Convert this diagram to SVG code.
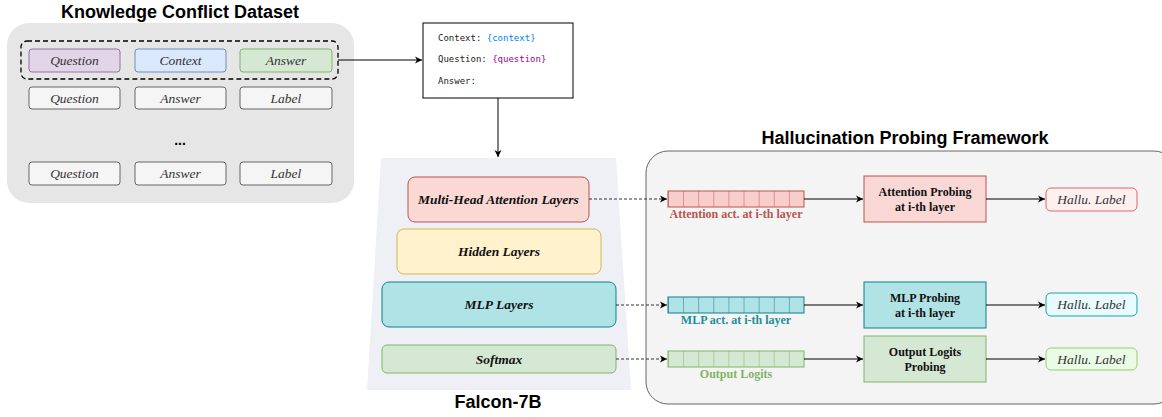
<svg xmlns="http://www.w3.org/2000/svg" width="1162" height="417" viewBox="0 0 1162 417">
<style>
.title{font-family:"Liberation Sans",Arial,sans-serif;font-weight:bold;font-size:18px;fill:#000;text-anchor:middle}
.cell{font-family:"Liberation Serif","Times New Roman",serif;font-style:italic;font-size:13.5px;text-anchor:middle;fill:#333}
.layer{font-family:"Liberation Serif","Times New Roman",serif;font-style:italic;font-weight:bold;font-size:13.5px;text-anchor:middle;fill:#111}
.probe{font-family:"Liberation Serif","Times New Roman",serif;font-weight:bold;font-size:12px;text-anchor:middle;fill:#111}
.act{font-family:"Liberation Serif","Times New Roman",serif;font-weight:bold;font-size:12px;text-anchor:middle}
.mono{font-family:"DejaVu Sans Mono","Liberation Mono",monospace;font-size:9px;fill:#222}
.gbox{fill:#f5f5f5;stroke:#666;stroke-width:1}
.line{fill:none;stroke:#000;stroke-width:1}
.dash{fill:none;stroke:#333;stroke-width:1;stroke-dasharray:3 2}
</style>
<defs>
<marker id="arr" markerWidth="8" markerHeight="8" refX="7" refY="4" orient="auto" markerUnits="userSpaceOnUse">
<path d="M0,0.5 L7,4 L0,7.5 L2,4 Z" fill="#000"/>
</marker>
<pattern id="cellsR" x="668" y="0" width="15.11" height="417" patternUnits="userSpaceOnUse">
<rect x="0" y="0" width="15.11" height="417" fill="#f8cecc"/>
<line x1="0" y1="0" x2="0" y2="417" stroke="#b85450" stroke-width="1"/>
</pattern>
<pattern id="cellsB" x="668" y="0" width="15.11" height="417" patternUnits="userSpaceOnUse">
<rect x="0" y="0" width="15.11" height="417" fill="#b0e3e6"/>
<line x1="0" y1="0" x2="0" y2="417" stroke="#0e8088" stroke-width="1"/>
</pattern>
<pattern id="cellsG" x="668" y="0" width="15.11" height="417" patternUnits="userSpaceOnUse">
<rect x="0" y="0" width="15.11" height="417" fill="#d5e8d4"/>
<line x1="0" y1="0" x2="0" y2="417" stroke="#82b366" stroke-width="1"/>
</pattern>
</defs>

<g id="dataset">
<text class="title" x="180" y="18">Knowledge Conflict Dataset</text>
<rect x="7" y="23" width="347" height="180" rx="22" fill="#e6e6e6"/>
<rect x="21" y="41" width="317" height="38" rx="6" fill="none" stroke="#000" stroke-width="1.3" stroke-dasharray="5 3"/>
<rect x="29" y="49" width="91" height="23" rx="3" fill="#e1d5e7" stroke="#9673a6"/>
<text class="cell" x="74.5" y="65">Question</text>
<rect x="135" y="49" width="91" height="23" rx="3" fill="#dae8fc" stroke="#6c8ebf"/>
<text class="cell" x="180.5" y="65">Context</text>
<rect x="240" y="49" width="92" height="23" rx="3" fill="#d5e8d4" stroke="#82b366"/>
<text class="cell" x="286" y="65">Answer</text>
<rect x="29" y="87" width="91" height="22" rx="3" class="gbox"/>
<text class="cell" x="74.5" y="102.5">Question</text>
<rect x="135" y="87" width="91" height="22" rx="3" class="gbox"/>
<text class="cell" x="180.5" y="102.5">Answer</text>
<rect x="240" y="87" width="92" height="22" rx="3" class="gbox"/>
<text class="cell" x="286" y="102.5">Label</text>
<text x="180" y="145" font-family="Liberation Sans,Arial,sans-serif" font-weight="bold" font-size="14" text-anchor="middle">...</text>
<rect x="29" y="162" width="91" height="23" rx="3" class="gbox"/>
<text class="cell" x="74.5" y="178">Question</text>
<rect x="135" y="162" width="91" height="23" rx="3" class="gbox"/>
<text class="cell" x="180.5" y="178">Answer</text>
<rect x="240" y="162" width="92" height="23" rx="3" class="gbox"/>
<text class="cell" x="286" y="178">Label</text>
</g>

<g id="prompt">
<rect x="423" y="23" width="150" height="75" fill="#fff" stroke="#000" stroke-width="1"/>
<text class="mono" x="438" y="41">Context: <tspan fill="#007fff">{context}</tspan></text>
<text class="mono" x="438" y="62">Question: <tspan fill="#990099">{question}</tspan></text>
<text class="mono" x="438" y="84">Answer:</text>
</g>

<g id="falcon">
<polygon points="381,158 616,158 631,390 367,390" fill="#eef0f5"/>
<text class="title" x="498" y="408">Falcon-7B</text>
<g id="mha">
<rect x="408" y="177" width="181" height="45" rx="7" fill="#fad9d5" stroke="#b85450"/>
<text class="layer" x="498.5" y="203.5">Multi-Head Attention Layers</text>
</g>
<g id="hidden">
<rect x="397" y="229" width="204" height="45" rx="7" fill="#fff2cc" stroke="#d6b656"/>
<text class="layer" x="499" y="256">Hidden Layers</text>
</g>
<g id="mlp">
<rect x="382" y="282" width="234" height="45" rx="7" fill="#b0e3e6" stroke="#0e8088"/>
<text class="layer" x="499" y="309">MLP Layers</text>
</g>
<g id="softmax">
<rect x="382" y="345" width="234" height="28" rx="5" fill="#d5e8d4" stroke="#82b366"/>
<text class="layer" x="499" y="363.5">Softmax</text>
</g>
</g>

<g id="framework">
<text class="title" x="905" y="144">Hallucination Probing Framework</text>
<rect x="646" y="151" width="530" height="253" rx="22" fill="#f4f4f4" stroke="#666" stroke-width="1"/>
</g>

<g id="attn-row">
<rect x="668" y="191" width="136" height="16" fill="url(#cellsR)" stroke="#b85450"/>
<text class="act" x="736" y="218" fill="#b85450">Attention act. at i-th layer</text>
<rect x="864" y="176" width="122" height="46" fill="#f8d7d5" stroke="#b85450"/>
<text class="probe" x="925" y="196">Attention Probing</text>
<text class="probe" x="925" y="211">at i-th layer</text>
<rect x="1046" y="188" width="91" height="23" rx="5" fill="#fff0f0" stroke="#e06666"/>
<text class="cell" x="1091.5" y="204" fill="#222">Hallu. Label</text>
</g>

<g id="mlp-row">
<rect x="668" y="297" width="136" height="16" fill="url(#cellsB)" stroke="#0e8088"/>
<text class="act" x="736" y="324" fill="#1c8f98">MLP act. at i-th layer</text>
<rect x="864" y="282" width="122" height="46" fill="#b0e3e6" stroke="#0e8088"/>
<text class="probe" x="925" y="302">MLP Probing</text>
<text class="probe" x="925" y="317">at i-th layer</text>
<rect x="1046" y="293" width="91" height="23" rx="5" fill="#e8fafd" stroke="#12a4b0"/>
<text class="cell" x="1091.5" y="309" fill="#222">Hallu. Label</text>
</g>

<g id="logit-row">
<rect x="668" y="351" width="136" height="16" fill="url(#cellsG)" stroke="#82b366"/>
<text class="act" x="736" y="378" fill="#82b366">Output Logits</text>
<rect x="864" y="336" width="122" height="46" fill="#d5e8d4" stroke="#82b366"/>
<text class="probe" x="925" y="356">Output Logits</text>
<text class="probe" x="925" y="371">Probing</text>
<rect x="1046" y="348" width="91" height="22" rx="5" fill="#eafbe6" stroke="#97d077"/>
<text class="cell" x="1091.5" y="363.5" fill="#222">Hallu. Label</text>
</g>

<g id="connectors">
<path class="line" d="M338,60 L422,60" marker-end="url(#arr)"/>
<path class="line" d="M498,98 L498,157" marker-end="url(#arr)"/>
<path class="dash" d="M589,199 L667,199" marker-end="url(#arr)"/>
<path class="dash" d="M616,305 L667,305" marker-end="url(#arr)"/>
<path class="dash" d="M616,359 L667,359" marker-end="url(#arr)"/>
<path class="line" d="M804,199 L863,199" marker-end="url(#arr)"/>
<path class="line" d="M986,199 L1045,199" marker-end="url(#arr)"/>
<path class="line" d="M804,305 L863,305" stroke="#555" marker-end="url(#arr)"/>
<path class="line" d="M986,305 L1045,305" stroke="#555" marker-end="url(#arr)"/>
<path class="line" d="M804,359 L863,359" marker-end="url(#arr)"/>
<path class="line" d="M986,359 L1045,359" marker-end="url(#arr)"/>
</g>
</svg>
